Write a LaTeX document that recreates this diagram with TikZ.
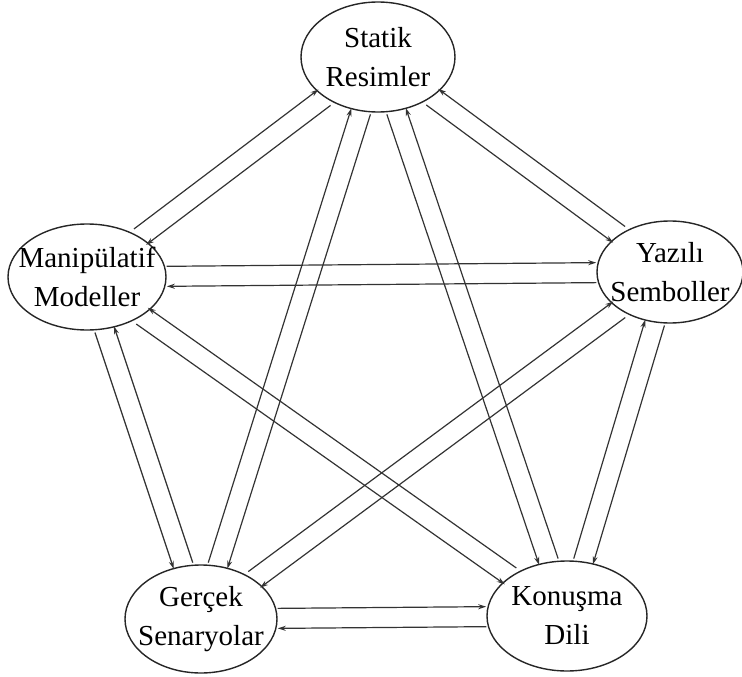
\documentclass[tikz,border=0pt]{standalone}
\usepackage{fontspec}
\setmainfont{Liberation Serif}
\usepackage{tikz}
\usetikzlibrary{shapes.geometric, arrows.meta, calc}
\definecolor{rimgray}{HTML}{262626}
\definecolor{linkgray}{HTML}{333333}

% two opposite arrows between #1 and #2, #3 = signed lane offset
\newcommand\twoway[3]{%
  \coordinate (dir) at ($(#2)-(#1)$);
  \coordinate (off) at ($(0,0)!#3!90:(dir)$);
  \draw[arr, transform canvas={shift={(off)}}] (#1) -- (#2);
  \draw[arr, transform canvas={shift={($(0,0)-(off)$)}}] (#2) -- (#1);
}

\begin{document}
\begin{tikzpicture}[x=1pt, y=-1pt,
  state/.style={ellipse, draw=rimgray, line width=1.4pt, fill=white, inner xsep=-25pt, inner ysep=0pt, align=center, font=\fontsize{29}{39}\selectfont},
  arr/.style={-{Stealth[length=8pt, width=5pt]}, draw=linkgray, line width=1.2pt},
]
  \useasboundingbox (0,0) rectangle (742,677);

  \node[state, minimum width=154pt, minimum height=110pt] (stat) at (378,57) {Statik\\Resimler};
  \node[state, minimum width=158pt, minimum height=106pt] (manip) at (87,277) {Manipülatif\\Modeller};
  \node[state, minimum width=146pt, minimum height=102pt] (yaz) at (670,272) {Yazılı\\Semboller};
  \node[state, minimum width=152pt, minimum height=108pt] (gercek) at (201,619) {Gerçek\\Senaryolar};
  \node[state, minimum width=160pt, minimum height=110pt] (konus) at (567,616) {Konuşma\\Dili};

  % outer ring
  \twoway{manip}{stat}{10pt}
  \twoway{stat}{yaz}{-10pt}
  \twoway{konus}{yaz}{10pt}
  \twoway{gercek}{konus}{10pt}
  \twoway{manip}{gercek}{-10pt}

  % the star
  \twoway{manip}{yaz}{10pt}
  \twoway{gercek}{stat}{10pt}
  \twoway{stat}{konus}{-10pt}
  \twoway{manip}{konus}{-10pt}
  \twoway{gercek}{yaz}{10pt}

\end{tikzpicture}
\end{document}
